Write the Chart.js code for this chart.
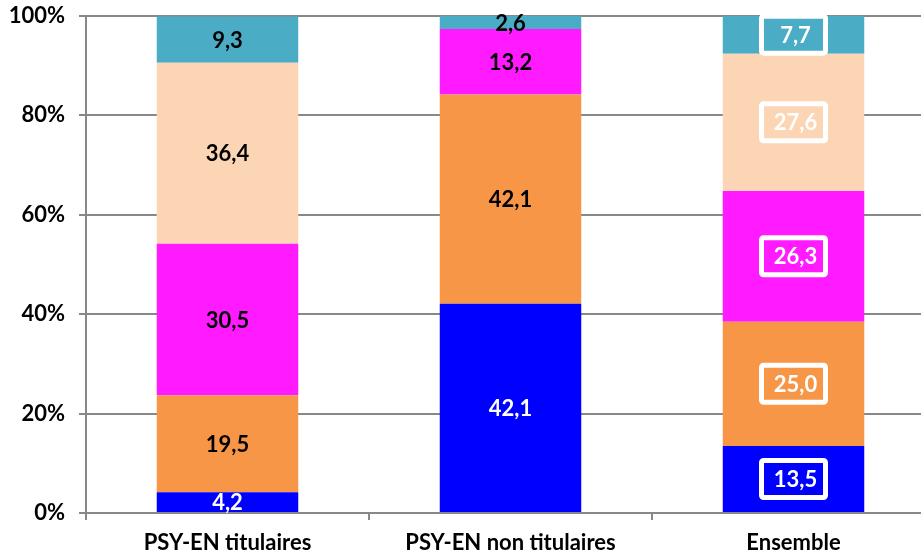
<!DOCTYPE html>
<html>
<head>
<meta charset="utf-8">
<script src="https://cdn.jsdelivr.net/npm/chart.js@4/dist/chart.umd.min.js"></script>
<style>
  html, body { margin: 0; padding: 0; background: #fff; overflow: hidden; }
  #wrap { position: relative; width: 940px; height: 559px; }
</style>
</head>
<body>
<div id="wrap"><canvas id="c"></canvas></div>
<script>
const categories = ['PSY-EN titulaires', 'PSY-EN non titulaires', 'Ensemble'];
const seriesBlue    = [4.2, 42.1, 13.5];
const seriesOrange  = [19.5, 42.1, 25.0];
const seriesMagenta = [30.5, 13.2, 26.3];
const seriesPeach   = [36.4, 0, 27.6];
const seriesTeal    = [9.3, 2.6, 7.7];
const yTicks = [0, 20, 40, 60, 80, 100];

const colors = ['#0000FF', '#F79646', '#FF1AFF', '#FCD5B5', '#4BACC6'];
const seriesList = [seriesBlue, seriesOrange, seriesMagenta, seriesPeach, seriesTeal];
const FONT = 'Lato, "Liberation Sans", sans-serif';
const GRID = '#888888';

const labelPlugin = {
  id: 'segLabels',
  afterDatasetsDraw(chart) {
    const ctx = chart.ctx;
    ctx.save();
    ctx.font = 'bold 22px ' + FONT;
    ctx.textAlign = 'center';
    ctx.textBaseline = 'middle';
    chart.data.datasets.forEach((ds, di) => {
      const meta = chart.getDatasetMeta(di);
      meta.data.forEach((el, i) => {
        const v = ds.data[i];
        if (!v) return;
        const txt = v.toFixed(1).replace('.', ',');
        const x = el.x;
        const y = (el.y + el.base) / 2;
        if (i === 2) {
          const w = 64, h = 37;
          ctx.lineWidth = 5;
          ctx.strokeStyle = '#FFFFFF';
          ctx.fillStyle = colors[di];
          ctx.beginPath();
          ctx.roundRect(x - w / 2, y - h / 2, w, h, 2);
          ctx.fill();
          ctx.stroke();
          ctx.fillStyle = '#FFFFFF';
          ctx.fillText(txt, x + 2, y + 1);
        } else {
          ctx.fillStyle = di === 0 ? '#FFFFFF' : '#000000';
          ctx.fillText(txt, x, y + 1);
        }
      });
    });
    ctx.restore();
  }
};

new Chart(document.getElementById('c'), {
  type: 'bar',
  data: {
    labels: categories,
    datasets: seriesList.map((d, k) => ({
      data: d,
      backgroundColor: colors[k],
      borderWidth: 0,
      categoryPercentage: 1,
      barPercentage: 0.5
    }))
  },
  options: {
    responsive: true,
    maintainAspectRatio: false,
    animation: false,
    layout: { padding: { top: 16, right: 5, left: 0, bottom: 0 } },
    plugins: { legend: { display: false }, tooltip: { enabled: false } },
    scales: {
      x: {
        stacked: true,
        grid: { display: true, offset: true, drawOnChartArea: false, color: GRID, lineWidth: 2, tickLength: 7 },
        border: { display: true, color: GRID, width: 2 },
        ticks: { color: '#000', font: { family: FONT, size: 22, weight: 'bold' }, padding: 10 },
        afterFit(s) { s.height = 46; s.paddingLeft = 0; s.paddingRight = 0; }
      },
      y: {
        stacked: true,
        min: 0, max: 100,
        afterBuildTicks(s) { s.ticks = yTicks.map(v => ({ value: v })); },
        grid: { color: GRID, lineWidth: 2, tickLength: 7 },
        border: { display: true, color: GRID, width: 2 },
        ticks: {
          color: '#000',
          font: { family: FONT, size: 22, weight: 'bold' },
          padding: 14,
          callback: v => v + '%'
        },
        afterFit(s) { s.width = 86; s.paddingTop = 0; s.paddingBottom = 0; }
      }
    }
  },
  plugins: [labelPlugin]
});
</script>
</body>
</html>
